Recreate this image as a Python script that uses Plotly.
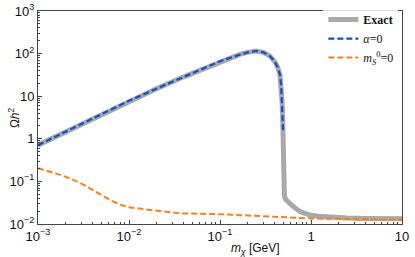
import plotly.graph_objects as go

# ---- data ----
m_exact = [0.001, 0.002, 0.005, 0.01, 0.02, 0.04, 0.07, 0.1, 0.13, 0.165, 0.2, 0.25, 0.3, 0.354,
           0.4, 0.43, 0.456, 0.47, 0.48, 0.488, 0.494, 0.498, 0.502, 0.506, 0.51, 0.53,
           0.56, 0.59, 0.65, 0.757, 0.85, 0.975, 1.2, 1.62, 2.5, 4.0, 10.0]
omega_exact = [0.71, 1.45, 3.72, 7.8, 15, 28.5, 47, 66, 80, 96, 107, 115, 107, 87,
               65, 48, 32, 18, 8, 3.5, 1.4, 0.4, 0.12, 0.06, 0.045, 0.037,
               0.033, 0.031, 0.025, 0.0195, 0.0175, 0.0162, 0.0152, 0.0145, 0.0139, 0.0135, 0.0132]

m_alpha = [0.001, 0.002, 0.005, 0.01, 0.02, 0.04, 0.07, 0.1, 0.13, 0.165, 0.2, 0.25, 0.3, 0.354,
           0.4, 0.43, 0.456, 0.47, 0.48, 0.488, 0.494]
omega_alpha = [0.71, 1.45, 3.72, 7.8, 15, 28.5, 47, 66, 80, 96, 107, 115, 107, 87,
               65, 48, 32, 18, 8, 3.5, 1.4]

m_ms0 = [0.001, 0.00135, 0.0018, 0.00225, 0.0029, 0.00372, 0.0048, 0.00618, 0.008, 0.01026,
         0.017, 0.0363, 0.1, 0.3, 1.0, 3.0, 10.0]
omega_ms0 = [0.204, 0.169, 0.14, 0.117, 0.092, 0.069, 0.049, 0.0366, 0.0285, 0.0245,
             0.0214, 0.0178, 0.017, 0.0155, 0.0135, 0.013, 0.0126]

x_tickvals = [1e-3, 1e-2, 1e-1, 1, 10]
x_ticktext = ["10<sup>−3</sup>", "10<sup>−2</sup>", "10<sup>−1</sup>", "1", "10"]
y_tickvals = [1e-2, 1e-1, 1, 10, 100, 1000]
y_ticktext = ["10<sup>−2</sup>", "10<sup>−1</sup>", "1", "10", "10<sup>2</sup>", "10<sup>3</sup>"]

names = ["<b>Exact</b>", "<i>α</i>=0", "<i>m</i><sub><i>S</i></sub><sup>0</sup>=0"]

x_minor = [k * 10 ** e for e in range(-3, 1) for k in range(2, 10)]
y_minor = [k * 10 ** e for e in range(-2, 3) for k in range(2, 10)]

fig = go.Figure()
fig.add_trace(go.Scatter(x=m_exact, y=omega_exact, mode="lines", name=names[0],
                         line=dict(color="#a9a9a9", width=5)))
fig.add_trace(go.Scatter(x=m_alpha, y=omega_alpha, mode="lines", name=names[1],
                         line=dict(color="#0a4fd6", width=2.2, dash="6px,3px")))
fig.add_trace(go.Scatter(x=m_ms0, y=omega_ms0, mode="lines", name=names[2],
                         line=dict(color="#ff7f0e", width=2, dash="6px,3px")))

axis_common = dict(
    showgrid=False, zeroline=False, showline=True, linecolor="#444", linewidth=1,
    mirror=True, ticks="inside", ticklen=4, tickwidth=1, tickcolor="#444",
    automargin=False, ticklabeloverflow="allow",
    tickfont=dict(family="Liberation Sans, Arial, sans-serif", size=13, color="#111"),
)
fig.update_xaxes(type="log", range=[-3, 1], tickvals=x_tickvals, ticktext=x_ticktext,
                 minor=dict(tickvals=x_minor, ticks="inside", ticklen=2, tickcolor="#444"),
                 **axis_common)
fig.update_yaxes(type="log", range=[-2, 3], tickvals=y_tickvals, ticktext=y_ticktext,
                 minor=dict(tickvals=y_minor, ticks="inside", ticklen=2, tickcolor="#444"),
                 **axis_common)

fig.add_annotation(text="Ω<i>h</i><sup>2</sup>", xref="paper", yref="paper",
                   x=-0.067, y=0.5, xanchor="center", yanchor="middle", textangle=-90,
                   showarrow=False, font=dict(family="Liberation Sans, Arial", size=12, color="#111"))
fig.add_annotation(text="<i>m</i><sub><i>χ</i></sub> [GeV]", xref="paper", yref="paper",
                   x=0.598, y=-0.072, xanchor="center", yanchor="top",
                   showarrow=False, font=dict(family="Liberation Sans, Arial", size=12, color="#111"))

fig.update_layout(
    width=415, height=257,
    margin=dict(l=38, r=13, t=11, b=33, autoexpand=False),
    plot_bgcolor="white", paper_bgcolor="white",
    legend=dict(x=0.99, y=1.028, xanchor="right", yanchor="top",
                bgcolor="rgba(255,255,255,0.8)", borderwidth=0,
                font=dict(family="Liberation Serif, Times New Roman, serif", size=12, color="#111"),
                itemwidth=30, tracegroupgap=0),
    showlegend=True,
)

# remove the default 8px page margin so the 415x257 figure fills the window exactly
fig.write_html("out.html",
               config={"displayModeBar": False, "staticPlot": True},
               post_script="document.body.style.margin='0px';document.body.style.overflow='hidden';")
